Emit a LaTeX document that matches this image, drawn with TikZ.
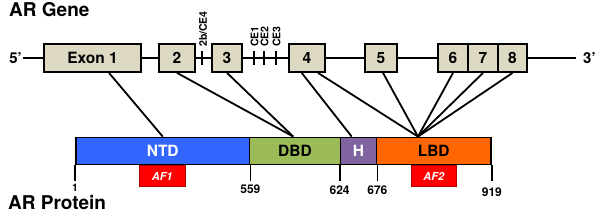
\documentclass[tikz,border=0pt]{standalone}
\usepackage{fontspec}
\setmainfont{TeX Gyre Heros}
\definecolor{genefill}{RGB}{221,217,195}
\definecolor{ntdblue}{RGB}{51,102,255}
\definecolor{dbdgreen}{RGB}{155,187,89}
\definecolor{hpurple}{RGB}{128,100,162}
\definecolor{lbdorange}{RGB}{255,102,0}
\definecolor{afred}{RGB}{255,0,0}
\begin{document}
\begin{tikzpicture}[x=1pt,y=1pt,
  exonbox/.style={draw=black, line width=1.8pt, fill=genefill, minimum height=28pt, inner sep=0pt,
    font=\fontsize{15.5}{15.5}\selectfont\bfseries},
  seg/.style={draw=black, line width=1.8pt, minimum height=27pt, inner sep=0pt,
    font=\fontsize{15.5}{15.5}\selectfont\bfseries},
  afbox/.style={fill=afred, draw=afred!70!black, line width=0.5pt, minimum width=45.7pt, minimum height=21pt,
    inner sep=0pt, text=white, font=\fontsize{11}{11}\selectfont\bfseries\itshape},
  link/.style={line width=1.8pt},
  tick/.style={line width=1.8pt},
  num/.style={inner sep=0pt, anchor=north, font=\fontsize{12}{12}\selectfont\bfseries},
  vlabel/.style={inner sep=0pt, rotate=90, anchor=west, font=\fontsize{10.5}{10.5}\selectfont\bfseries},
  title/.style={inner sep=0pt, anchor=base west, font=\fontsize{19}{19}\selectfont\bfseries},
  endlabel/.style={inner sep=0pt, font=\fontsize{15}{15}\selectfont\bfseries}
]
\useasboundingbox (0,0) rectangle (600,216);

% titles
\node[title] (tgene) at (9,199.3) {AR Gene};
\node[title] (tprot) at (8,6) {AR Protein};

% gene line
\coordinate (gl) at (23,158);
\coordinate (gr) at (576,158);
\draw[tick] (gl) -- (gr);
\node[endlabel, anchor=base east] (five) at (22,152.7) {5’};
\node[endlabel, anchor=base west] (three) at (583,152.7) {3’};

% ticks (alternative exons)
\foreach \n/\x in {t2b/202, tce1/254, tce2/264, tce3/276}{
  \coordinate (\n top) at (\x,165);
  \coordinate (\n bot) at (\x,151);
  \draw[tick] (\n top) -- (\n bot);
}
\node[vlabel] (l2b) at (203,169) {2b/CE4};
\node[vlabel] (lce1) at (254.5,169) {CE1};
\node[vlabel] (lce2) at (264.5,169) {CE2};
\node[vlabel] (lce3) at (276.5,169) {CE3};

% exons
\node[exonbox, minimum width=97pt] (e1) at (92.5,158) {Exon 1};
\node[exonbox, minimum width=36pt] (e2) at (177,158) {2};
\node[exonbox, minimum width=30pt] (e3) at (227,158) {3};
\node[exonbox, minimum width=36pt] (e4) at (307,158) {4};
\node[exonbox, minimum width=32pt] (e5) at (381,158) {5};
\node[exonbox, minimum width=30pt] (e6) at (453,158) {6};
\node[exonbox, minimum width=30pt] (e7) at (483,158) {7};
\node[exonbox, minimum width=29pt] (e8) at (512.5,158) {8};

% protein domains
\node[seg, fill=ntdblue, text=white, minimum width=173.5pt] (ntd) at (162.75,65) {NTD};
\node[seg, fill=dbdgreen, minimum width=91pt] (dbd) at (295,65) {DBD};
\node[seg, fill=hpurple, text=white, minimum width=36pt] (h) at (358.5,65) {H};
\node[seg, fill=lbdorange, minimum width=114.5pt] (lbd) at (433.75,65) {LBD};

% AF boxes
\node[afbox] (af1) at (162.2,39.8) {AF1};
\node[afbox] (af2) at (433.8,39.8) {AF2};

% connectors
\draw[link] ([xshift=16.5pt]e1.south) -- (ntd.north);
\draw[link] (e2.south) -- ([xshift=-1.7pt]dbd.north);
\draw[link] (e3.south) -- ([xshift=-1.7pt]dbd.north);
\draw[link] ([xshift=-5.3pt]e4.south) -- ([xshift=-6.8pt]h.north);
\draw[link] ([xshift=11pt]e4.south) -- ([xshift=-15.75pt]lbd.north);
\draw[link] ([xshift=2pt]e5.south) -- ([xshift=-15.75pt]lbd.north);
\draw[link] (e6.south) -- ([xshift=-15.75pt]lbd.north);
\draw[link] (e7.south) -- ([xshift=-15.75pt]lbd.north);
\draw[link] (e8.south) -- ([xshift=-15.75pt]lbd.north);

% position ticks
\draw[tick] (ntd.south west) -- ++(0,-15.5) coordinate (p1);
\draw[tick] (ntd.south east) -- ++(0,-15.5) coordinate (p559);
\draw[tick] (h.south west) -- ++(0,-15.5) coordinate (p624);
\draw[tick] (h.south east) -- ++(0,-15.5) coordinate (p676);
\draw[tick] (lbd.south east) -- ++(0,-15.5) coordinate (p919);
\node[num, font=\fontsize{10.5}{10.5}\selectfont\bfseries] (n1) at ([yshift=-2.5pt]p1) {1};
\node[num] (n559) at ([yshift=-4pt]p559) {559};
\node[num] (n624) at ([yshift=-5pt]p624) {624};
\node[num] (n676) at ([yshift=-5pt]p676) {676};
\node[num] (n919) at ([yshift=-6.5pt]p919) {919};
\end{tikzpicture}
\end{document}
